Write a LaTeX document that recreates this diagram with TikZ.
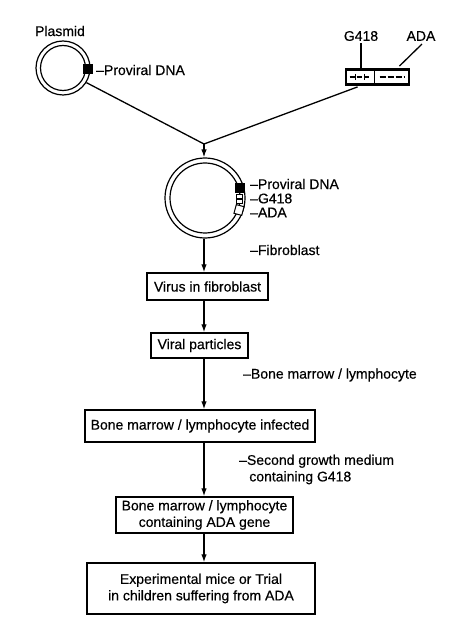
\documentclass[tikz,border=0pt]{standalone}
\usepackage{fontspec}
\setmainfont{Liberation Sans}[FakeBold=0.4]
\usetikzlibrary{arrows.meta,calc}
\begin{document}
\begin{tikzpicture}[x=1pt,y=-1pt,
  txt/.style={font=\fontsize{14}{16.5}\selectfont},
  box/.style={txt,draw,line width=1.4pt,inner sep=0pt,align=center},
  lbl/.style={txt,anchor=west,inner sep=0pt,align=left},
  ttl/.style={txt,inner sep=0pt},
  arr/.style={line width=1.3pt,-{Latex[length=8pt,width=5.5pt]}},
  ln/.style={line width=1.3pt},
  ring/.style={circle,draw,line width=1.2pt,inner sep=0pt}]
\useasboundingbox (0,0) rectangle (474,628);

% plasmid
\node[ttl] (plt) at (60,31) {Plasmid};
\node[ring,minimum size=54pt] (p1) at (63,68) {};
\node[ring,minimum size=45pt] (p1i) at (63,68) {};
\node[fill=black,minimum size=10pt,inner sep=0pt] (psq) at (88,69) {};
\node[lbl] (pdna) at (96,70) {–Proviral DNA};

% cassette
\node[ttl] (g418) at (361,36) {G418};
\node[ttl] (ada) at (421,36) {ADA};
\node[draw,line width=2.8pt,minimum width=63pt,minimum height=15pt,inner sep=0pt] (cas) at (377.5,77) {};
\draw[line width=1.6pt] (cas.north) ++(-3,0) -- ($(cas.south)+(-3,0)$);
\draw[line width=2pt,dash pattern=on 5pt off 2pt] ($(cas.west)+(5,0)$) -- ($(cas.center)+(-7,0)$);
\draw[line width=1.2pt] ($(cas.west)+(11,-3)$) -- ($(cas.west)+(11,3)$);
\draw[line width=1.2pt] ($(cas.west)+(20,-3)$) -- ($(cas.west)+(20,3)$);
\draw[line width=2pt,dash pattern=on 6pt off 2pt] ($(cas.center)+(2,0)$) -- ($(cas.east)+(-5,0)$);
\draw[ln] (g418.south) ++(0,2) -- (g418.south |- cas.north);
\draw[ln] ($(ada.south)+(1,3)$) -- ($(cas.north east)+(-11,-2)$);

% junction
\coordinate (j) at (204,144);
\draw[ln] (p1.-32) -- (j);
\draw[ln] ($(cas.south west)+(13,1)$) -- (j);

% recombinant circle
\node[ring,minimum size=80pt] (c2) at (205,198) {};
\node[ring,minimum size=70pt] (c2i) at (205,198) {};
\draw[arr] (j) -- (j |- c2.north);
\node[fill=black,minimum size=10pt,inner sep=0pt] (m1) at (240,188) {};
\node[draw,fill=white,line width=1pt,minimum width=6pt,minimum height=4pt,inner sep=0pt] (m2a) at (239,196.5) {};
\node[draw,fill=white,line width=1pt,minimum width=6pt,minimum height=4pt,inner sep=0pt] (m2b) at (239,201.5) {};
\node[draw,fill=white,line width=1pt,minimum width=8pt,minimum height=9pt,inner sep=0pt,rotate=-15] (m3) at (239,210) {};
\node[lbl] (l1) at (250,184) {–Proviral DNA};
\node[lbl] (l2) at (250,198.5) {–G418};
\node[lbl] (l3) at (250,212.5) {–ADA};
\node[lbl] (l4) at (250,250) {–Fibroblast};

% flow boxes
\node[box,minimum width=121pt,minimum height=27pt] (b1) at (207.5,286.5) {Virus in fibroblast};
\node[box,minimum width=97pt,minimum height=25pt] (b2) at (199.5,345.5) {Viral particles};
\node[box,minimum width=230pt,minimum height=32pt] (b3) at (200,426) {Bone marrow / lymphocyte infected};
\node[box,minimum width=177pt,minimum height=36pt] (b4) at (204.5,515) {Bone marrow / lymphocyte\\containing ADA gene};
\node[box,minimum width=228pt,minimum height=51pt] (b5) at (201,588.5) {Experimental mice or Trial\\in children suffering from ADA};

\node[lbl] (l5) at (243,375) {–Bone marrow / lymphocyte};
\node[lbl] (l6) at (239,469.5) {–Second growth medium\\\hphantom{–}\,containing G418};

\draw[arr] (j |- c2.south) -- (j |- b1.north);
\draw[arr] (j |- b1.south) -- (j |- b2.north);
\draw[arr] (j |- b2.south) -- (j |- b3.north);
\draw[arr] (j |- b3.south) -- (j |- b4.north);
\draw[arr] (j |- b4.south) -- (j |- b5.north);
\end{tikzpicture}
\end{document}
